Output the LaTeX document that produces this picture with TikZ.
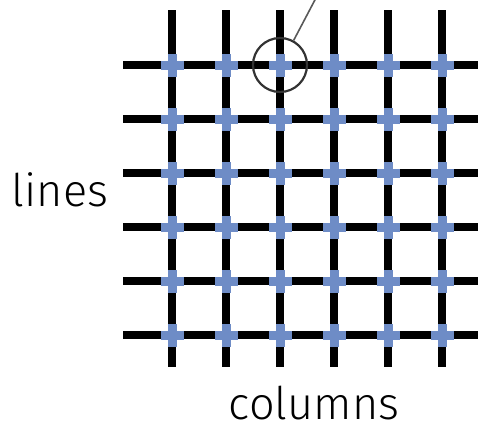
\documentclass[tikz,border=0pt]{standalone}
\usepackage{fontspec}
\setmainfont{Fira Sans Light}
\begin{document}
\begin{tikzpicture}[x=1pt,y=-1pt,
  gridline/.style={line width=8pt,black},
  knot/.style={fill=crossblue,draw=none},
  callout/.style={line width=2.2pt,draw=black!80},
  pointer/.style={line width=1.6pt,draw=black!65},
  lbl/.style={font=\fontsize{45}{50}\selectfont,anchor=base,inner sep=0pt}]
\definecolor{crossblue}{RGB}{110,140,198}
\useasboundingbox (0,0) rectangle (478,429);
% grid
\foreach \i in {0,...,5}{
  \coordinate (ct\i) at (172+54*\i,10);
  \coordinate (cb\i) at (172+54*\i,367);
  \draw[gridline] (ct\i) -- (cb\i);
  \coordinate (rl\i) at (123,65+54*\i);
  \coordinate (rr\i) at (480,65+54*\i);
  \draw[gridline] (rl\i) -- (rr\i);
}
% blue crosses at intersections
\foreach \i in {0,...,5}{
  \foreach \j in {0,...,5}{
    \coordinate (k\i\j) at (172+54*\i,65+54*\j);
    \fill[knot] ([shift={(-11.5,-4.5)}]k\i\j) rectangle ([shift={(11.5,4.5)}]k\i\j);
    \fill[knot] ([shift={(-4.5,-11.5)}]k\i\j) rectangle ([shift={(4.5,11.5)}]k\i\j);
  }
}
% callout circle and pointer
\node[callout,circle,minimum size=54pt,inner sep=0pt] (ring) at (k20) {};
\coordinate (ptr) at (317,-4);
\draw[pointer] (ring.61) -- (ptr);
% labels
\node[lbl] (lines) at (60,206) {lines};
\node[lbl] (columns) at (314,419) {columns};
\end{tikzpicture}
\end{document}
